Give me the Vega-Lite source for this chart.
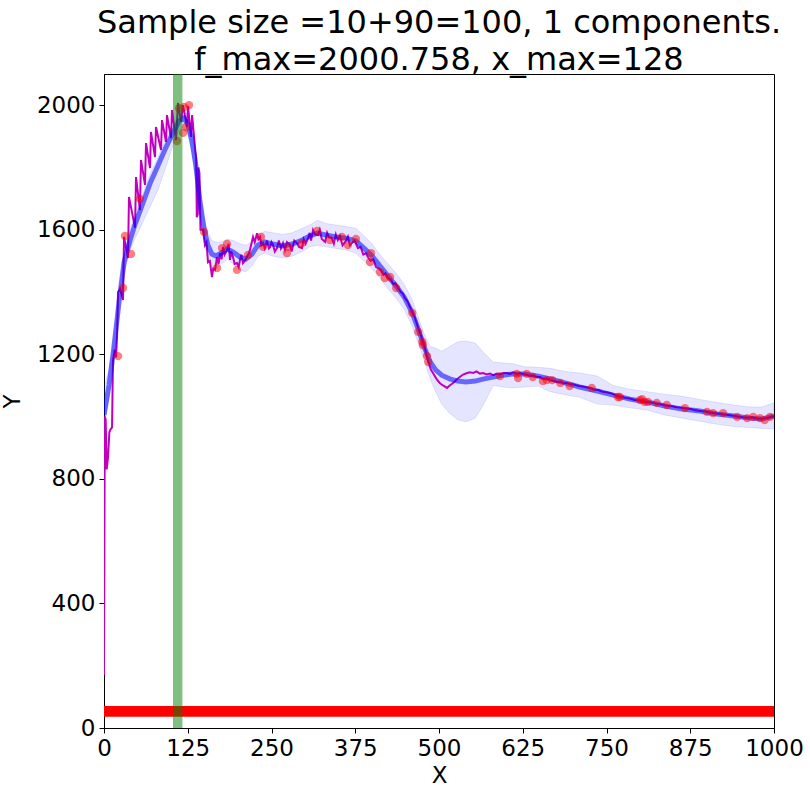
{
  "$schema": "https://vega.github.io/schema/vega-lite/v6.json",
  "width": 670,
  "height": 654,
  "autosize": {"type": "none"},
  "padding": {"left": 104, "top": 74, "right": 36, "bottom": 65},
  "background": "white",
  "config": {
    "font": "DejaVu Sans",
    "view": {"stroke": "black", "strokeWidth": 1},
    "axis": {"domainColor": "black", "tickColor": "black", "labelColor": "black", "titleColor": "black", "labelFontSize": 23, "titleFontSize": 23, "titleFontWeight": "normal", "tickSize": 5, "labelPadding": 4, "grid": false, "labelFont": "DejaVu Sans", "titleFont": "DejaVu Sans", "labelFlush": false, "labelOverlap": false, "format": "d"},
    "title": {"fontSize": 32, "fontWeight": "normal", "font": "DejaVu Sans", "color": "black"}
  },
  "title": {"text": ["Sample size =10+90=100, 1 components.", "f_max=2000.758, x_max=128"], "anchor": "middle", "offset": -3, "lineHeight": 37},
  "datasets": {
    "curve": [
      {"x": 0, "mean": 1005, "lo": 975, "hi": 1095},
      {"x": 7.5, "mean": 1101, "lo": 1060, "hi": 1150},
      {"x": 13.4, "mean": 1198, "lo": 1165, "hi": 1230},
      {"x": 19.4, "mean": 1310, "lo": 1275, "hi": 1345},
      {"x": 24, "mean": 1397, "lo": 1365, "hi": 1430},
      {"x": 30, "mean": 1496, "lo": 1460, "hi": 1530},
      {"x": 39, "mean": 1567, "lo": 1535, "hi": 1600},
      {"x": 46, "mean": 1615, "lo": 1570, "hi": 1650},
      {"x": 57, "mean": 1679, "lo": 1620, "hi": 1710},
      {"x": 69, "mean": 1750, "lo": 1675, "hi": 1780},
      {"x": 81, "mean": 1808, "lo": 1730, "hi": 1835},
      {"x": 92, "mean": 1862, "lo": 1800, "hi": 1890},
      {"x": 103, "mean": 1911, "lo": 1870, "hi": 1935},
      {"x": 112, "mean": 1949, "lo": 1920, "hi": 1975},
      {"x": 119, "mean": 1959, "lo": 1930, "hi": 1985},
      {"x": 125, "mean": 1939, "lo": 1905, "hi": 1970},
      {"x": 131, "mean": 1888, "lo": 1850, "hi": 1920},
      {"x": 137, "mean": 1808, "lo": 1765, "hi": 1845},
      {"x": 143, "mean": 1695, "lo": 1650, "hi": 1735},
      {"x": 149, "mean": 1606, "lo": 1565, "hi": 1645},
      {"x": 155, "mean": 1551, "lo": 1510, "hi": 1590},
      {"x": 161, "mean": 1522, "lo": 1480, "hi": 1565},
      {"x": 167, "mean": 1516, "lo": 1475, "hi": 1560},
      {"x": 175, "mean": 1525, "lo": 1490, "hi": 1560},
      {"x": 184, "mean": 1538, "lo": 1505, "hi": 1570},
      {"x": 193, "mean": 1528, "lo": 1490, "hi": 1565},
      {"x": 203, "mean": 1512, "lo": 1470, "hi": 1555},
      {"x": 212, "mean": 1506, "lo": 1465, "hi": 1550},
      {"x": 221, "mean": 1522, "lo": 1485, "hi": 1560},
      {"x": 230, "mean": 1551, "lo": 1515, "hi": 1585},
      {"x": 240, "mean": 1561, "lo": 1525, "hi": 1595},
      {"x": 252, "mean": 1554, "lo": 1515, "hi": 1590},
      {"x": 266, "mean": 1548, "lo": 1510, "hi": 1585},
      {"x": 281, "mean": 1554, "lo": 1515, "hi": 1590},
      {"x": 296, "mean": 1567, "lo": 1530, "hi": 1605},
      {"x": 307, "mean": 1580, "lo": 1545, "hi": 1615},
      {"x": 319, "mean": 1589, "lo": 1550, "hi": 1630},
      {"x": 331, "mean": 1583, "lo": 1545, "hi": 1620},
      {"x": 346, "mean": 1577, "lo": 1540, "hi": 1615},
      {"x": 361, "mean": 1573, "lo": 1535, "hi": 1610},
      {"x": 376, "mean": 1564, "lo": 1525, "hi": 1605},
      {"x": 388, "mean": 1541, "lo": 1500, "hi": 1580},
      {"x": 400, "mean": 1516, "lo": 1475, "hi": 1555},
      {"x": 412, "mean": 1483, "lo": 1445, "hi": 1520},
      {"x": 424, "mean": 1451, "lo": 1410, "hi": 1490},
      {"x": 436, "mean": 1419, "lo": 1380, "hi": 1460},
      {"x": 448, "mean": 1384, "lo": 1345, "hi": 1425},
      {"x": 460, "mean": 1333, "lo": 1290, "hi": 1375},
      {"x": 469, "mean": 1281, "lo": 1235, "hi": 1320},
      {"x": 478, "mean": 1223, "lo": 1180, "hi": 1265},
      {"x": 487, "mean": 1175, "lo": 1120, "hi": 1225},
      {"x": 495, "mean": 1150, "lo": 1080, "hi": 1220},
      {"x": 504, "mean": 1133, "lo": 1040, "hi": 1210},
      {"x": 516, "mean": 1121, "lo": 1010, "hi": 1225},
      {"x": 528, "mean": 1114, "lo": 990, "hi": 1240},
      {"x": 540, "mean": 1111, "lo": 983, "hi": 1243},
      {"x": 554, "mean": 1114, "lo": 995, "hi": 1236},
      {"x": 567, "mean": 1121, "lo": 1040, "hi": 1205},
      {"x": 581, "mean": 1127, "lo": 1100, "hi": 1175},
      {"x": 596, "mean": 1133, "lo": 1095, "hi": 1172},
      {"x": 610, "mean": 1137, "lo": 1092, "hi": 1170},
      {"x": 628, "mean": 1137, "lo": 1095, "hi": 1160},
      {"x": 648, "mean": 1130, "lo": 1098, "hi": 1158},
      {"x": 666, "mean": 1121, "lo": 1080, "hi": 1155},
      {"x": 688, "mean": 1108, "lo": 1070, "hi": 1145},
      {"x": 710, "mean": 1095, "lo": 1062, "hi": 1140},
      {"x": 736, "mean": 1082, "lo": 1040, "hi": 1130},
      {"x": 760, "mean": 1069, "lo": 1037, "hi": 1100},
      {"x": 785, "mean": 1056, "lo": 1028, "hi": 1088},
      {"x": 810, "mean": 1047, "lo": 1021, "hi": 1080},
      {"x": 837, "mean": 1034, "lo": 1005, "hi": 1072},
      {"x": 863, "mean": 1024, "lo": 995, "hi": 1065},
      {"x": 889, "mean": 1018, "lo": 985, "hi": 1055},
      {"x": 915, "mean": 1008, "lo": 975, "hi": 1045},
      {"x": 940, "mean": 1002, "lo": 968, "hi": 1037},
      {"x": 964, "mean": 995, "lo": 965, "hi": 1031},
      {"x": 982, "mean": 992, "lo": 962, "hi": 1031},
      {"x": 1000, "mean": 1002, "lo": 960, "hi": 1044}
    ],
    "truth": [
      {"x": 0, "y": 170}, {"x": 1.2, "y": 1000}, {"x": 2.5, "y": 990}, {"x": 4, "y": 830}, {"x": 6, "y": 870}, {"x": 8, "y": 950}, {"x": 10, "y": 960}, {"x": 12, "y": 965}, {"x": 13.4, "y": 1180}, {"x": 16, "y": 1215}, {"x": 18, "y": 1190}, {"x": 19.5, "y": 1260}, {"x": 21, "y": 1400}, {"x": 24, "y": 1410}, {"x": 28.4, "y": 1374},
      {"x": 29.9, "y": 1577}, {"x": 35.8, "y": 1509},
      {"x": 37.3, "y": 1705}, {"x": 46.3, "y": 1606},
      {"x": 47.8, "y": 1769}, {"x": 53.7, "y": 1663},
      {"x": 55.2, "y": 1824}, {"x": 61.2, "y": 1744},
      {"x": 62.7, "y": 1878}, {"x": 68.7, "y": 1798},
      {"x": 70.1, "y": 1914}, {"x": 76.1, "y": 1833},
      {"x": 77.6, "y": 1930}, {"x": 85.1, "y": 1856},
      {"x": 86.6, "y": 1952}, {"x": 92.5, "y": 1882},
      {"x": 94, "y": 1968}, {"x": 100, "y": 1894},
      {"x": 101.5, "y": 1984}, {"x": 107.5, "y": 1888},
      {"x": 110.4, "y": 2007}, {"x": 114.9, "y": 1946},
      {"x": 117.9, "y": 2000}, {"x": 123.9, "y": 1930},
      {"x": 125.4, "y": 1997}, {"x": 129.8, "y": 1898},
      {"x": 131.5, "y": 1968}, {"x": 136, "y": 1860},
      {"x": 137.5, "y": 1830}, {"x": 138.5, "y": 1640}, {"x": 140, "y": 1650}, {"x": 141, "y": 1800}, {"x": 142.5, "y": 1780}, {"x": 144, "y": 1600}, {"x": 147.8, "y": 1600}, {"x": 150.7, "y": 1551}, {"x": 153, "y": 1560}, {"x": 155.2, "y": 1496}, {"x": 158, "y": 1500}, {"x": 161.2, "y": 1448}, {"x": 163, "y": 1475}, {"x": 165.7, "y": 1471}, {"x": 168.7, "y": 1512}, {"x": 171, "y": 1490}, {"x": 173.1, "y": 1525}, {"x": 175.5, "y": 1505}, {"x": 177.6, "y": 1545}, {"x": 180, "y": 1520}, {"x": 183.6, "y": 1535}, {"x": 186, "y": 1555}, {"x": 188.1, "y": 1503}, {"x": 190, "y": 1530}, {"x": 192.5, "y": 1512}, {"x": 195, "y": 1490}, {"x": 198.5, "y": 1493}, {"x": 201, "y": 1480}, {"x": 203, "y": 1503}, {"x": 205, "y": 1520}, {"x": 207.5, "y": 1493}, {"x": 210, "y": 1500}, {"x": 213.4, "y": 1512}, {"x": 216, "y": 1525}, {"x": 217.9, "y": 1535}, {"x": 220, "y": 1555}, {"x": 222.4, "y": 1577}, {"x": 225, "y": 1560}, {"x": 228.4, "y": 1589}, {"x": 230.5, "y": 1570}, {"x": 232.8, "y": 1577}, {"x": 235, "y": 1550}, {"x": 237.3, "y": 1557}, {"x": 240, "y": 1540}, {"x": 243.3, "y": 1565}, {"x": 246, "y": 1540}, {"x": 247.8, "y": 1544}, {"x": 250, "y": 1560}, {"x": 252.2, "y": 1551}, {"x": 255, "y": 1530}, {"x": 258.2, "y": 1541}, {"x": 261, "y": 1565}, {"x": 264, "y": 1540}, {"x": 267.2, "y": 1557}, {"x": 270, "y": 1535}, {"x": 273, "y": 1560}, {"x": 277.6, "y": 1551}, {"x": 280, "y": 1530}, {"x": 284, "y": 1565}, {"x": 288, "y": 1557}, {"x": 291, "y": 1545}, {"x": 295.5, "y": 1541}, {"x": 298, "y": 1570}, {"x": 301, "y": 1555}, {"x": 304.5, "y": 1573}, {"x": 307, "y": 1590}, {"x": 309, "y": 1565}, {"x": 312, "y": 1599}, {"x": 315, "y": 1585}, {"x": 319.4, "y": 1583}, {"x": 322, "y": 1600}, {"x": 325, "y": 1570}, {"x": 330, "y": 1561}, {"x": 333, "y": 1590}, {"x": 336, "y": 1575}, {"x": 340, "y": 1573}, {"x": 343, "y": 1555}, {"x": 346, "y": 1585}, {"x": 349, "y": 1567}, {"x": 352, "y": 1580}, {"x": 356, "y": 1550}, {"x": 360, "y": 1561}, {"x": 364, "y": 1578}, {"x": 367, "y": 1550}, {"x": 370, "y": 1557}, {"x": 374, "y": 1565}, {"x": 379, "y": 1541}, {"x": 383, "y": 1545}, {"x": 387, "y": 1520}, {"x": 391, "y": 1525}, {"x": 394, "y": 1512}, {"x": 398, "y": 1500}, {"x": 402, "y": 1505}, {"x": 406, "y": 1480}, {"x": 409, "y": 1477}, {"x": 413, "y": 1470}, {"x": 417, "y": 1455}, {"x": 420, "y": 1460}, {"x": 424, "y": 1445}, {"x": 428, "y": 1440}, {"x": 432, "y": 1425}, {"x": 435, "y": 1428}, {"x": 439, "y": 1413}, {"x": 443, "y": 1400}, {"x": 446, "y": 1395}, {"x": 449, "y": 1381}, {"x": 453, "y": 1370}, {"x": 456, "y": 1355}, {"x": 460, "y": 1336}, {"x": 464, "y": 1318}, {"x": 469, "y": 1284}, {"x": 474, "y": 1255}, {"x": 479, "y": 1220}, {"x": 484, "y": 1175}, {"x": 488, "y": 1150}, {"x": 491, "y": 1140}, {"x": 496, "y": 1122}, {"x": 501, "y": 1108}, {"x": 506, "y": 1100}, {"x": 512, "y": 1092}, {"x": 516, "y": 1100}, {"x": 521, "y": 1108}, {"x": 526, "y": 1118}, {"x": 531, "y": 1127}, {"x": 536, "y": 1135}, {"x": 542, "y": 1140}, {"x": 546, "y": 1142}, {"x": 551, "y": 1140}, {"x": 556, "y": 1145}, {"x": 561, "y": 1138}, {"x": 566, "y": 1140}, {"x": 571, "y": 1135}, {"x": 576, "y": 1138}, {"x": 581, "y": 1133}, {"x": 586, "y": 1138}, {"x": 591, "y": 1135}, {"x": 596, "y": 1140}, {"x": 601, "y": 1140}, {"x": 606, "y": 1137}, {"x": 611, "y": 1142}, {"x": 616, "y": 1137}, {"x": 621, "y": 1140}, {"x": 625, "y": 1137}, {"x": 630, "y": 1135}, {"x": 635, "y": 1131}, {"x": 640, "y": 1132}, {"x": 646, "y": 1127}, {"x": 651, "y": 1127}, {"x": 656, "y": 1120}, {"x": 661, "y": 1122}, {"x": 666, "y": 1117}, {"x": 671, "y": 1115}, {"x": 676, "y": 1111}, {"x": 681, "y": 1112}, {"x": 686, "y": 1107}, {"x": 691, "y": 1108}, {"x": 696, "y": 1104}, {"x": 700, "y": 1104}, {"x": 706, "y": 1100}, {"x": 712, "y": 1097}, {"x": 718, "y": 1095}, {"x": 725, "y": 1092}, {"x": 732, "y": 1086}, {"x": 738, "y": 1085}, {"x": 744, "y": 1080}, {"x": 750, "y": 1078}, {"x": 755, "y": 1076}, {"x": 760, "y": 1072}, {"x": 766, "y": 1066}, {"x": 772, "y": 1064}, {"x": 778, "y": 1060}, {"x": 785, "y": 1058}, {"x": 792, "y": 1053}, {"x": 799, "y": 1052}, {"x": 806, "y": 1048}, {"x": 813, "y": 1046}, {"x": 820, "y": 1044}, {"x": 827, "y": 1040}, {"x": 834, "y": 1038}, {"x": 841, "y": 1035}, {"x": 848, "y": 1033}, {"x": 855, "y": 1030}, {"x": 862, "y": 1028}, {"x": 869, "y": 1026}, {"x": 876, "y": 1024}, {"x": 883, "y": 1020}, {"x": 890, "y": 1018}, {"x": 897, "y": 1017}, {"x": 904, "y": 1013}, {"x": 911, "y": 1011}, {"x": 918, "y": 1009}, {"x": 925, "y": 1007}, {"x": 932, "y": 1005}, {"x": 939, "y": 1003}, {"x": 946, "y": 1000}, {"x": 953, "y": 998}, {"x": 960, "y": 996}, {"x": 967, "y": 998}, {"x": 974, "y": 994}, {"x": 981, "y": 993}, {"x": 988, "y": 995}, {"x": 994, "y": 998}, {"x": 1000, "y": 1002}
    ],
    "samples": [
      {"x": 20.9, "y": 1194}, {"x": 28.4, "y": 1413}, {"x": 31.3, "y": 1580}, {"x": 40.3, "y": 1522}, {"x": 53.7, "y": 1699}, {"x": 109, "y": 1885}, {"x": 112, "y": 1990}, {"x": 118, "y": 1911}, {"x": 122.4, "y": 1930}, {"x": 119.4, "y": 1994}, {"x": 126.9, "y": 2000}, {"x": 149.3, "y": 1593}, {"x": 168.7, "y": 1477}, {"x": 176.1, "y": 1541}, {"x": 183.6, "y": 1554}, {"x": 198.5, "y": 1471}, {"x": 214.9, "y": 1519}, {"x": 234.3, "y": 1577}, {"x": 237.3, "y": 1545}, {"x": 273, "y": 1525}, {"x": 275, "y": 1545}, {"x": 295.5, "y": 1557}, {"x": 318, "y": 1596}, {"x": 337, "y": 1567}, {"x": 355, "y": 1577}, {"x": 364, "y": 1551}, {"x": 376, "y": 1570}, {"x": 398.5, "y": 1525}, {"x": 397, "y": 1496}, {"x": 412, "y": 1464}, {"x": 419, "y": 1445}, {"x": 427, "y": 1448}, {"x": 436, "y": 1413}, {"x": 460, "y": 1333}, {"x": 469, "y": 1272}, {"x": 475, "y": 1240}, {"x": 476, "y": 1230}, {"x": 482, "y": 1195}, {"x": 484, "y": 1175}, {"x": 591, "y": 1130}, {"x": 616, "y": 1137}, {"x": 618, "y": 1124}, {"x": 631, "y": 1137}, {"x": 640, "y": 1127}, {"x": 655, "y": 1114}, {"x": 661, "y": 1117}, {"x": 669, "y": 1117}, {"x": 681, "y": 1108}, {"x": 695, "y": 1098}, {"x": 728, "y": 1092}, {"x": 767, "y": 1063}, {"x": 770, "y": 1063}, {"x": 800, "y": 1053}, {"x": 803, "y": 1056}, {"x": 807, "y": 1047}, {"x": 812, "y": 1047}, {"x": 825, "y": 1044}, {"x": 840, "y": 1037}, {"x": 867, "y": 1027}, {"x": 900, "y": 1015}, {"x": 909, "y": 1011}, {"x": 924, "y": 1011}, {"x": 945, "y": 999}, {"x": 960, "y": 995}, {"x": 969, "y": 999}, {"x": 979, "y": 995}, {"x": 986, "y": 989}, {"x": 994, "y": 999}
    ],
    "vband": [{"x1": 103, "x2": 117}],
    "hband": [{"y1": 36, "y2": 71}]
  },
  "layer": [
    {
      "data": {"name": "curve"},
      "mark": {"type": "area", "color": "#0000ff", "fillOpacity": 0.1, "stroke": "#0000ff", "strokeOpacity": 0.1, "strokeWidth": 1, "clip": true},
      "encoding": {
        "x": {"field": "x", "type": "quantitative", "scale": {"domain": [0, 1000], "nice": false}, "axis": {"values": [0, 125, 250, 375, 500, 625, 750, 875, 1000], "title": "X", "titlePadding": 4}},
        "y": {"field": "lo", "type": "quantitative", "scale": {"domain": [0, 2100], "nice": false}, "axis": {"values": [0, 400, 800, 1200, 1600, 2000], "title": "Y", "titlePadding": 12}},
        "y2": {"field": "hi"}
      }
    },
    {
      "data": {"name": "truth"},
      "mark": {"type": "line", "color": "#bf00bf", "strokeWidth": 2, "clip": true},
      "encoding": {
        "x": {"field": "x", "type": "quantitative"},
        "y": {"field": "y", "type": "quantitative"}
      }
    },
    {
      "data": {"name": "curve"},
      "mark": {"type": "line", "color": "#0000ff", "opacity": 0.55, "strokeWidth": 5, "clip": true},
      "encoding": {
        "x": {"field": "x", "type": "quantitative"},
        "y": {"field": "mean", "type": "quantitative"}
      }
    },
    {
      "data": {"name": "samples"},
      "mark": {"type": "circle", "color": "#ff0000", "opacity": 0.5, "size": 70, "clip": true},
      "encoding": {
        "x": {"field": "x", "type": "quantitative"},
        "y": {"field": "y", "type": "quantitative"}
      }
    },
    {
      "data": {"name": "hband"},
      "mark": {"type": "rect", "color": "#ff0000", "opacity": 1},
      "encoding": {
        "y": {"field": "y1", "type": "quantitative"},
        "y2": {"field": "y2"}
      }
    },
    {
      "data": {"name": "vband"},
      "mark": {"type": "rect", "color": "#008000", "opacity": 0.5},
      "encoding": {
        "x": {"field": "x1", "type": "quantitative"},
        "x2": {"field": "x2"}
      }
    }
  ]
}
